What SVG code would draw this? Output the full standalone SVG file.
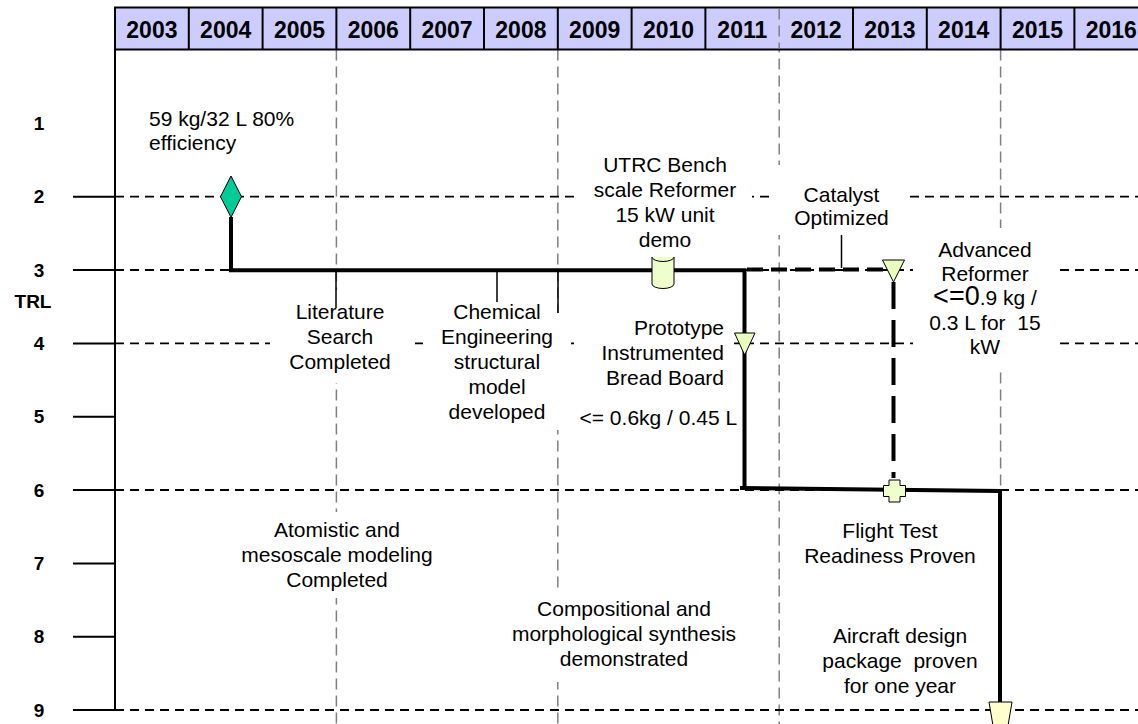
<svg xmlns="http://www.w3.org/2000/svg" width="1138" height="724" viewBox="0 0 1138 724">
<style>
text{font-family:"Liberation Sans",Arial,sans-serif;fill:#000}
.lbl{font-size:21px}
.c{text-anchor:middle}
.r{text-anchor:end}
.yr{font-size:23px;font-weight:bold;text-anchor:middle}
.trl{font-size:19px;font-weight:bold;text-anchor:middle}
.grid{stroke:#808080;stroke-width:1.5;stroke-dasharray:11 6;fill:none}
.row{stroke:#000;stroke-width:1.8;stroke-dasharray:9 6;fill:none}
.tick{stroke:#000;stroke-width:2;fill:none}
.box{fill:#fff;stroke:none}
.thick{stroke:#000;stroke-width:4;fill:none}
.thin{stroke:#000;stroke-width:1.5;fill:none}
.mk{stroke:#000;stroke-width:1}
</style>
<rect width="1138" height="724" fill="#fff"/>
<g id="grid">
<path class="grid" d="M336.4,49.5V724M557.8,49.5V724M779.2,7.5V724M1000.6,49.5V724"/>
<path class="row" d="M115,196.7H1138M115,270H1138M115,343.4H1138M115,490H1138M115,710H1138"/>
<path class="tick" d="M73,196.7H115M73,270H115M73,343.4H115M73,416.7H115M73,490H115M73,563.4H115M73,636.7H115M73,710H115M115,49.5V710"/>
</g>
<g id="header">
<rect x="115" y="7.5" width="1040" height="42" fill="#CCCCFF" stroke="#000" stroke-width="2"/>
<path stroke="#000" stroke-width="2" d="M188.8,7.5V49.5M262.6,7.5V49.5M336.4,7.5V49.5M410.2,7.5V49.5M484,7.5V49.5M557.8,7.5V49.5M631.6,7.5V49.5M705.4,7.5V49.5M853,7.5V49.5M926.8,7.5V49.5M1000.6,7.5V49.5M1074.4,7.5V49.5"/>
<path class="grid" d="M779.2,8.5V48.5"/>
<text class="yr" x="151.9" y="37.5">2003</text>
<text class="yr" x="225.7" y="37.5">2004</text>
<text class="yr" x="299.5" y="37.5">2005</text>
<text class="yr" x="373.3" y="37.5">2006</text>
<text class="yr" x="447.1" y="37.5">2007</text>
<text class="yr" x="520.9" y="37.5">2008</text>
<text class="yr" x="594.7" y="37.5">2009</text>
<text class="yr" x="668.5" y="37.5">2010</text>
<text class="yr" x="742.3" y="37.5">2011</text>
<text class="yr" x="816.1" y="37.5">2012</text>
<text class="yr" x="889.9" y="37.5">2013</text>
<text class="yr" x="963.7" y="37.5">2014</text>
<text class="yr" x="1037.5" y="37.5">2015</text>
<text class="yr" x="1111.3" y="37.5">2016</text>
</g>
<g id="axis-labels">
<text class="trl" x="39" y="129.5">1</text>
<text class="trl" x="39" y="203.4">2</text>
<text class="trl" x="39" y="276.8">3</text>
<text class="trl" x="33" y="308">TRL</text>
<text class="trl" x="39" y="350.1">4</text>
<text class="trl" x="39" y="423.4">5</text>
<text class="trl" x="39" y="496.7">6</text>
<text class="trl" x="39" y="570.1">7</text>
<text class="trl" x="39" y="643.4">8</text>
<text class="trl" x="39" y="716.7">9</text>
</g>
<g id="node-efficiency">
<text class="lbl" x="149" y="125.5">59 kg/32 L 80%</text>
<text class="lbl" x="149" y="150">efficiency</text>
</g>
<g id="node-catalyst">
<rect class="box" x="773" y="165" width="132" height="70"/>
<text class="lbl c" x="841.5" y="202">Catalyst</text>
<text class="lbl c" x="841.5" y="225">Optimized</text>
</g>
<g id="node-literature">
<rect class="box" x="270" y="290" width="140" height="93"/>
<text class="lbl c" x="340" y="319.3">Literature</text>
<text class="lbl c" x="340" y="344.3">Search</text>
<text class="lbl c" x="340" y="369.3">Completed</text>
</g>
<g id="node-chemical">
<rect class="box" x="423" y="313" width="148" height="117"/>
<text class="lbl c" x="497" y="319.3">Chemical</text>
<text class="lbl c" x="497" y="344.3">Engineering</text>
<text class="lbl c" x="497" y="369.3">structural</text>
<text class="lbl c" x="497" y="394.3">model</text>
<text class="lbl c" x="497" y="419">developed</text>
</g>
<g id="node-prototype">
<rect class="box" x="580" y="305" width="154" height="90"/>
<text class="lbl r" x="724" y="335">Prototype</text>
<text class="lbl r" x="724" y="360">Instrumented</text>
<text class="lbl r" x="724" y="385">Bread Board</text>
<text class="lbl" x="579.5" y="425">&lt;= 0.6kg / 0.45 L</text>
</g>
<g id="node-advanced">
<rect class="box" x="913" y="228" width="147" height="144"/>
<text class="lbl c" x="985" y="256.7">Advanced</text>
<text class="lbl c" x="985" y="280.5">Reformer</text>
<text class="lbl c" x="985" y="305"><tspan style="font-size:27px">&lt;=0</tspan>.9 kg /</text>
<text class="lbl c" x="985" y="329.5" xml:space="preserve">0.3 L for  15</text>
<text class="lbl c" x="985" y="354">kW</text>
</g>
<g id="node-atomistic">
<rect class="box" x="240" y="512" width="194" height="86"/>
<text class="lbl c" x="337" y="537">Atomistic and</text>
<text class="lbl c" x="337" y="562">mesoscale modeling</text>
<text class="lbl c" x="337" y="587">Completed</text>
</g>
<g id="node-compositional">
<rect class="box" x="510" y="590" width="230" height="92"/>
<text class="lbl c" x="624" y="616">Compositional and</text>
<text class="lbl c" x="624" y="641">morphological synthesis</text>
<text class="lbl c" x="624" y="666">demonstrated</text>
</g>
<g id="node-flight">
<text class="lbl c" x="890" y="537.5">Flight Test</text>
<text class="lbl c" x="890" y="563">Readiness Proven</text>
</g>
<g id="node-aircraft">
<text class="lbl c" x="900" y="642.5">Aircraft design</text>
<text class="lbl c" x="900" y="667.5" xml:space="preserve">package  proven</text>
<text class="lbl c" x="900" y="692.5">for one year</text>
</g>
<g id="connectors">
<path class="thick" d="M231,217V270.3H744.5V488"/>
<path class="thick" d="M740,488L1000,491V702"/>
<path class="thick" stroke-dasharray="16 8" d="M747,269.5H884"/>
<path class="thick" stroke-dasharray="27 11" d="M893.5,282V478"/>
<path class="thin" d="M336,270V308M497,270V302M558,270V313M841.5,235V268"/>
</g>
<g id="marker-diamond">
<polygon class="mk" points="231,176 241.5,196.7 231,217.3 220.5,196.7" fill="#00CC99"/>
</g>
<g id="marker-cylinder">
<path class="mk" fill="#EEFFCC" d="M652,257V284A11,4.5 0 0 0 674,284V257Z"/>
<ellipse class="mk" cx="663" cy="257" rx="11" ry="4.5" fill="#EEFFCC"/>
</g>
<g id="marker-tri-3">
<polygon class="mk" points="882.5,260 904.5,260 893.5,282" fill="#E8FFBF"/>
</g>
<g id="marker-tri-4">
<polygon class="mk" points="734.5,333 755,333 744.7,355" fill="#E8FFBF"/>
</g>
<g id="marker-cross">
<path class="mk" stroke-linejoin="round" fill="#EEFFCC" d="M889,480H900V485.5H905.5V496.5H900V502H889V496.5H883.5V485.5H889Z"/>
</g>
<g id="marker-tri-9">
<polygon class="mk" points="989,702 1012,702 1000.5,770" fill="#FFFFCC"/>
</g>
<g id="node-utrc">
<rect class="box" x="580" y="148" width="172" height="109"/>
<text class="lbl c" x="665" y="171.7">UTRC Bench</text>
<text class="lbl c" x="665" y="196.7">scale Reformer</text>
<text class="lbl c" x="665" y="221.7">15 kW unit</text>
<text class="lbl c" x="665" y="246.7">demo</text>
</g>
</svg>
